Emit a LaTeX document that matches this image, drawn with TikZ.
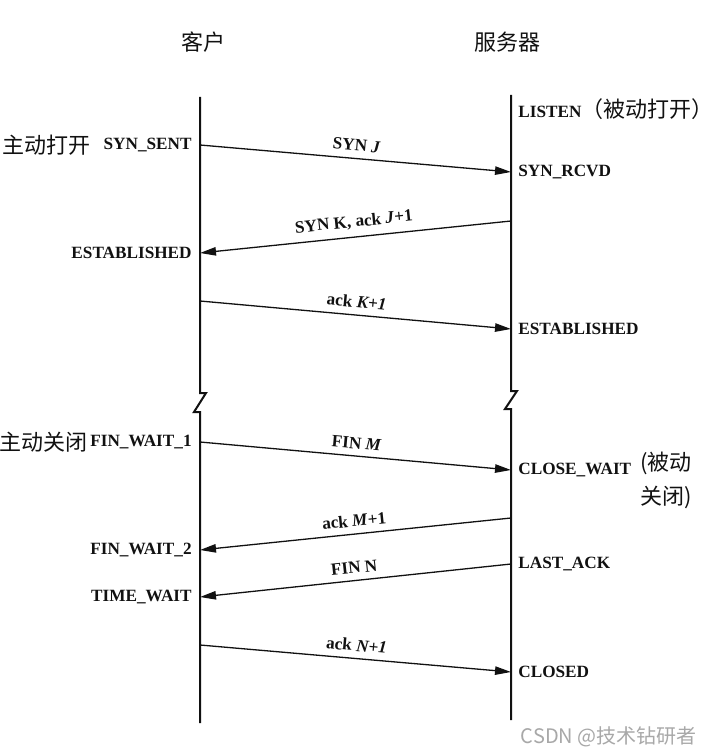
\documentclass[tikz,border=0pt]{standalone}
\usepackage{fontspec}
\setmainfont{Liberation Serif}
\newfontfamily\cjk{Noto Sans CJK SC}
\usetikzlibrary{arrows.meta,positioning}
\definecolor{ink}   {HTML}{111111}
\definecolor{wmgray}{HTML}{A8A8A8}
\newcommand{\zh}[1]{{\fontsize{11}{13}\selectfont\mdseries\cjk #1}}
\tikzset{
  timeline/.style ={draw=ink, line width=1pt},
  msgarr/.style   ={-{Triangle[length=8pt,width=4.2pt]}, line width=0.65pt, draw=ink},
  msglabel/.style ={font=\fontsize{8.6}{10}\selectfont\bfseries, text=ink,
                    sloped, above, midway},
  statelbl/.style ={font=\fontsize{8.6}{10}\selectfont\bfseries, text=ink, inner sep=0pt},
  cjklabel/.style ={font=\fontsize{11}{13}\selectfont\cjk, text=ink, inner sep=0pt},
}
\begin{document}
\begin{tikzpicture}[x=0.5pt,y=-0.5pt]
  \useasboundingbox[fill=white] (0,0) rectangle (711,753);

  % headers
  \node[cjklabel] (client) at (203,42) {客户};
  \node[cjklabel] (server) at (507,42) {服务器};

  % time lines, broken in the middle
  \draw[timeline] (200,97) -- (200,393) -- (206,393) -- (194,412) -- (200,412) -- (200,723);
  \draw[timeline] (511,95) -- (511,391) -- (517,391) -- (505,409) -- (511,409) -- (511,720);

  % points on the client line
  \coordinate (c1) at (200,145);
  \coordinate (c2) at (200,253);
  \coordinate (c3) at (200,301);
  \coordinate (c4) at (200,442);
  \coordinate (c5) at (200,550);
  \coordinate (c6) at (200,597);
  \coordinate (c7) at (200,645);

  % points on the server line
  \coordinate (s0) at (511,109);
  \coordinate (s1) at (511,172);
  \coordinate (s2) at (511,221);
  \coordinate (s3) at (511,329);
  \coordinate (s4) at (511,470);
  \coordinate (s5) at (511,518);
  \coordinate (s6) at (511,564);
  \coordinate (s7) at (511,672);

  % client states
  \node[statelbl, left=4pt of c1] (synsent) {SYN\_SENT};
  \node[statelbl, left=4pt of c2] (cestab) {ESTABLISHED};
  \node[statelbl, left=4pt of c4] (finwaita) {FIN\_WAIT\_1};
  \node[statelbl, left=4pt of c5] (finwaitb) {FIN\_WAIT\_2};
  \node[statelbl, left=4pt of c6] (timewait) {TIME\_WAIT};
  \node[cjklabel, left=6pt of synsent] (actopen) {主动打开};
  \node[cjklabel, left=1pt of finwaita] (actclose) {主动关闭};

  % server states
  \node[statelbl, right=3.5pt of s0] (listen) {LISTEN\zh{（被动打开）}};
  \node[statelbl, right=3.5pt of s1] (synrcvd) {SYN\_RCVD};
  \node[statelbl, right=3.5pt of s3] (sestab) {ESTABLISHED};
  \node[statelbl, right=3.5pt of s4] (closewait) {CLOSE\_WAIT};
  \node[statelbl, right=3.5pt of s6] (lastack) {LAST\_ACK};
  \node[statelbl, right=3.5pt of s7] (closed) {CLOSED};
  \node[cjklabel, font=\fontsize{11}{17}\selectfont\cjk, align=center,
        anchor=north west] (passclose) at (640,452) {(被动\\关闭)};

  % segments
  \draw[msgarr] (c1) -- (s1) node[msglabel] {SYN \textit{J}};
  \draw[msgarr] (s2) -- (c2) node[msglabel] {SYN K, ack \textit{J}+1};
  \draw[msgarr] (c3) -- (s3) node[msglabel] {ack \textit{K+1}};
  \draw[msgarr] (c4) -- (s4) node[msglabel] {FIN \textit{M}};
  \draw[msgarr] (s5) -- (c5) node[msglabel] {ack \textit{M}+1};
  \draw[msgarr] (s6) -- (c6) node[msglabel] {FIN N};
  \draw[msgarr] (c7) -- (s7) node[msglabel] {ack \textit{N+1}};

  \node[font=\fontsize{10}{12}\selectfont\cjk, text=wmgray, anchor=east,
        inner sep=0pt] (wmark) at (697,737) {CSDN @技术钻研者};
\end{tikzpicture}
\end{document}
